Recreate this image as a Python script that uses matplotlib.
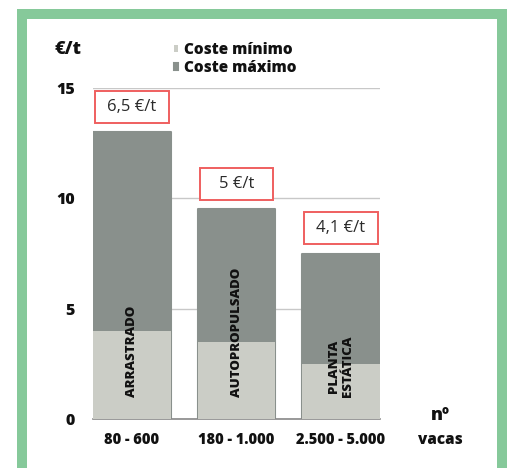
import matplotlib
matplotlib.use("Agg")
import matplotlib.pyplot as plt
from matplotlib.patches import Rectangle

rangos = ["80 - 600", "180 - 1.000", "2.500 - 5.000"]
tipos = ["ARRASTRADO", "AUTOPROPULSADO", "PLANTA\nESTÁTICA"]
coste_min = [4.0, 3.5, 2.5]
coste_max = [13.0, 9.5, 7.5]
etiquetas = ["6,5 €/t", "5 €/t", "4,1 €/t"]

c_min = "#cbcdc6"
c_max = "#89908c"
verde = "#86c99a"
rojo = "#ef5f5f"
negro = "#111111"
peso = 800

plt.rcParams['font.family'] = ['Open Sans', 'DejaVu Sans']

fig = plt.figure(figsize=(5.09, 4.68), dpi=100)
ax = fig.add_axes([93 / 509, 49 / 468, 287 / 509, 331 / 468])

x = list(range(len(rangos)))
w = 0.745
ax.bar(x, coste_max, width=w, color=c_max, edgecolor=c_max, linewidth=1.5,
       joinstyle='round', zorder=2, label="Coste máximo")
ax.bar(x, coste_min, width=w, color=c_min, zorder=3, label="Coste mínimo")

for xi, tipo in zip(x, tipos):
    ax.text(xi, 1.0, tipo, rotation=90, ha='center', va='bottom',
            fontsize=9.5, fontweight=peso, color=negro, zorder=4,
            linespacing=1.3)

for xi, top, lab in zip(x, coste_max, etiquetas):
    ax.add_patch(Rectangle((xi - w / 2 + 0.02, top + 0.42), w - 0.04, 1.44,
                           facecolor='white', edgecolor=rojo, linewidth=1.4,
                           zorder=5, clip_on=False))
    ax.text(xi, top + 1.14, lab, ha='center', va='center', fontsize=12,
            fontweight='normal', color='#2a2a2a', zorder=6)

ax.set_xlim(-w / 2, 2 + w / 2)
ax.set_ylim(0, 15)
ax.set_yticks([0, 5, 10, 15])
ax.yaxis.grid(True, color='#c8c8c8', linewidth=1)
ax.set_axisbelow(True)
for s in ['top', 'right', 'left']:
    ax.spines[s].set_visible(False)
ax.spines['bottom'].set_color('#888888')
ax.spines['bottom'].set_linewidth(1.2)
ax.tick_params(length=0)
ax.tick_params(axis='y', pad=13)
ax.tick_params(axis='x', pad=9)
ax.set_xticks(x)
ax.set_xticklabels(rangos, fontsize=10.5, fontweight=peso, color=negro)
for t in ax.get_yticklabels():
    t.set_fontsize(11.5)
    t.set_fontweight(peso)
    t.set_color(negro)

fig.text(68 / 509, 1 - 50 / 468, "€/t", ha='center', va='center',
         fontsize=13, fontweight=peso, color=negro)
fig.text(440 / 509, 1 - 415 / 468, "nº", ha='center', va='center',
         fontsize=13, fontweight=peso, color=negro)
fig.text(440 / 509, 1 - 440 / 468, "vacas", ha='center', va='center',
         fontsize=11, fontweight=peso, color=negro)

handles, labels = ax.get_legend_handles_labels()
leg = fig.legend(handles[::-1], labels[::-1], loc='center left',
                 bbox_to_anchor=(160 / 509, 1 - 59 / 468), frameon=False,
                 handlelength=0.3, handleheight=0.3, handletextpad=0.35,
                 labelspacing=0.15, prop={'weight': peso, 'size': 11})
for t in leg.get_texts():
    t.set_color(negro)

fig.patches.append(Rectangle((22 / 509, -0.05), 480 / 509, 0.97 + 0.05,
                             transform=fig.transFigure, fill=False,
                             edgecolor=verde, linewidth=7.2, zorder=0))

fig.savefig("out.png", dpi=100)
